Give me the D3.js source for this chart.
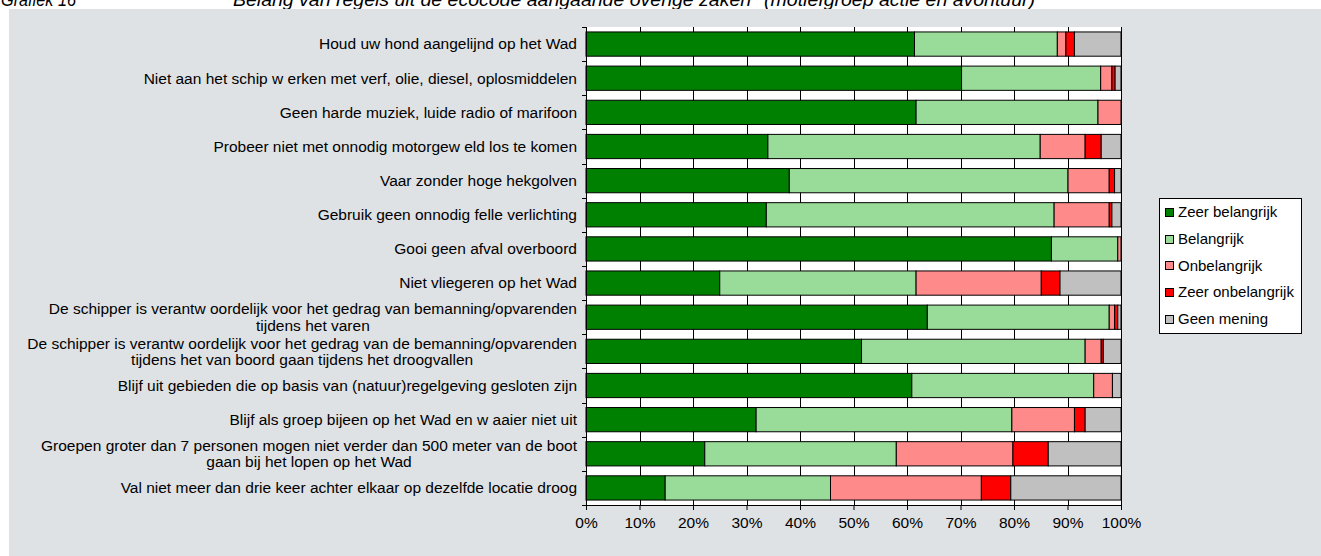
<!DOCTYPE html>
<html>
<head>
<meta charset="utf-8">
<script src="https://cdn.jsdelivr.net/npm/d3@7"></script>
<style>
  html, body { margin: 0; padding: 0; background: #ffffff; }
  svg { display: block; font-family: "Liberation Sans", Arial, sans-serif; }
</style>
</head>
<body>
<svg id="chart" width="1321" height="556"></svg>
<script>
// Survey statements (top to bottom); "\n" marks a wrapped line
const categories = [
  "Houd uw hond aangelijnd op het Wad",
  "Niet aan het schip w erken met verf, olie, diesel, oplosmiddelen",
  "Geen harde muziek, luide radio of marifoon",
  "Probeer niet met onnodig motorgew eld los te komen",
  "Vaar zonder hoge hekgolven",
  "Gebruik geen onnodig felle verlichting",
  "Gooi geen afval overboord",
  "Niet vliegeren op het Wad",
  "De schipper is verantw oordelijk voor het gedrag van bemanning/opvarenden\ntijdens het varen",
  "De schipper is verantw oordelijk voor het gedrag van de bemanning/opvarenden\ntijdens het van boord gaan tijdens het droogvallen",
  "Blijf uit gebieden die op basis van (natuur)regelgeving gesloten zijn",
  "Blijf als groep bijeen op het Wad en w aaier niet uit",
  "Groepen groter dan 7 personen mogen niet verder dan 500 meter van de boot\ngaan bij het lopen op het Wad",
  "Val niet meer dan drie keer achter elkaar op dezelfde locatie droog"
];

// Answer shares (%) per statement, same order as categories
const zeerBelangrijk   = [61.4, 70.2, 61.7, 34.0, 38.0, 33.7, 87.0, 25.0, 63.8, 51.5, 60.9, 31.8, 22.2, 14.8];
const belangrijk       = [26.7, 26.0, 34.0, 50.9, 52.1, 53.8, 12.4, 36.7, 34.0, 41.8, 34.0, 47.8, 35.8, 30.9];
const onbelangrijk     = [ 1.6,  2.1,  4.3,  8.4,  7.7, 10.3,  0.6, 23.4,  1.0,  3.0,  3.5, 11.7, 21.8, 28.2];
const zeerOnbelangrijk = [ 1.6,  0.6,  0.0,  3.0,  1.0,  0.5,  0.0,  3.5,  0.6,  0.4,  0.0,  2.0,  6.6,  5.5];
const geenMening       = [ 8.7,  1.1,  0.0,  3.7,  1.2,  1.7,  0.0, 11.4,  0.6,  3.3,  1.6,  6.7, 13.6, 20.6];

const seriesNames  = ["Zeer belangrijk", "Belangrijk", "Onbelangrijk", "Zeer onbelangrijk", "Geen mening"];
const seriesColors = ["#008000", "#99dc99", "#ff8a8a", "#ff0000", "#c0c0c0"];
const tickValues   = [0, 10, 20, 30, 40, 50, 60, 70, 80, 90, 100];

const titleLabel = "Grafiek 16";
const titleText  = "Belang van regels uit de ecocode aangaande overige zaken* (motiefgroep actie en avontuur)";

// Build a table for d3.stack
const seriesValues = [zeerBelangrijk, belangrijk, onbelangrijk, zeerOnbelangrijk, geenMening];
const table = categories.map((c, i) => {
  const row = { cat: c };
  seriesNames.forEach((s, k) => row[s] = seriesValues[k][i]);
  return row;
});
const stacked = d3.stack().keys(seriesNames)(table);

const svg = d3.select("#chart");

// Title line (runs past the top edge of the page)
svg.append("text").attr("x", 1).attr("y", 6)
  .attr("font-size", 19).attr("font-style", "italic")
  .attr("textLength", 75).attr("lengthAdjust", "spacingAndGlyphs").text(titleLabel);
svg.append("text").attr("x", 233).attr("y", 6)
  .attr("font-size", 19).attr("font-style", "italic")
  .attr("textLength", 802).attr("lengthAdjust", "spacingAndGlyphs").text(titleText);

// Chart panel
svg.append("rect").attr("x", 9).attr("y", 9).attr("width", 1312).attr("height", 547)
  .attr("fill", "#dfe2e5");

const plot = { left: 586, right: 1121, top: 27, bottom: 505 };

const x = d3.scaleLinear().domain([0, 100]).range([plot.left, plot.right]);
const y = d3.scaleBand().domain(categories).range([plot.top, plot.bottom]).paddingInner(0.29).paddingOuter(0.145);
const yBounds = d3.scaleBand().domain(categories).range([plot.top, plot.bottom]);

// Plot area
svg.append("rect").attr("x", plot.left).attr("y", plot.top)
  .attr("width", plot.right - plot.left).attr("height", plot.bottom - plot.top)
  .attr("fill", "#ffffff");

// Vertical gridlines
svg.append("g").selectAll("line").data(tickValues.slice(1)).join("line")
  .attr("x1", d => Math.round(x(d)) + 0.5).attr("x2", d => Math.round(x(d)) + 0.5)
  .attr("y1", plot.top).attr("y2", plot.bottom)
  .attr("stroke", "#000").attr("stroke-width", 1);

// Stacked bars
svg.append("g").selectAll("g").data(stacked).join("g")
  .attr("fill", (d, i) => seriesColors[i])
  .selectAll("rect").data(d => d.filter(p => p[1] - p[0] > 0)).join("rect")
  .attr("x", d => x(d[0]))
  .attr("y", d => y(d.data.cat))
  .attr("width", d => x(d[1]) - x(d[0]))
  .attr("height", y.bandwidth())
  .attr("stroke", "#000").attr("stroke-width", 1);

// X axis
const xAxis = svg.append("g").attr("transform", `translate(0,${plot.bottom})`)
  .call(d3.axisBottom(x).tickValues(tickValues).tickFormat(d => d + "%").tickSize(5).tickPadding(7));
xAxis.selectAll("path, line").attr("stroke", "#000");
xAxis.selectAll("text").attr("font-size", 15.5).attr("fill", "#000")
  .attr("font-family", "Liberation Sans, Arial, sans-serif");

// Y axis line with ticks at category boundaries
svg.append("line").attr("x1", plot.left + 0.5).attr("x2", plot.left + 0.5)
  .attr("y1", plot.top).attr("y2", plot.bottom).attr("stroke", "#000");
const bounds = categories.map(c => yBounds(c)).concat([plot.bottom]);
svg.append("g").selectAll("line").data(bounds).join("line")
  .attr("x1", plot.left - 4).attr("x2", plot.left)
  .attr("y1", d => Math.round(d) + 0.5).attr("y2", d => Math.round(d) + 0.5)
  .attr("stroke", "#000");

// Category labels
const labelG = svg.append("g").attr("font-size", 15.5).attr("fill", "#000");
categories.forEach(c => {
  const lines = c.split("\n");
  const cy = yBounds(c) + yBounds.bandwidth() / 2;
  const lh = 16.5;
  const t = labelG.append("text").attr("text-anchor", "middle");
  const y0 = cy - (lines.length - 1) * lh / 2;
  if (lines.length === 1) {
    t.attr("text-anchor", "end").attr("x", 577).attr("y", cy).attr("dy", "0.35em").text(lines[0]);
  } else {
    // wrapped labels are centered on their first line's extent
    const tmp = labelG.append("text").text(lines[0]);
    const w = tmp.node().getComputedTextLength();
    tmp.remove();
    const cx = 577 - w / 2;
    lines.forEach((ln, k) => {
      t.append("tspan").attr("x", cx).attr("y", y0 + k * lh).attr("dy", "0.35em").text(ln);
    });
  }
});

// Legend
const legend = svg.append("g");
legend.append("rect").attr("x", 1159.5).attr("y", 198.5).attr("width", 142).attr("height", 135)
  .attr("fill", "#ffffff").attr("stroke", "#000");
seriesNames.forEach((s, i) => {
  const cy = 212 + i * 26.7;
  legend.append("rect").attr("x", 1165.5).attr("y", Math.round(cy - 4) + 0.5).attr("width", 8).attr("height", 8)
    .attr("fill", seriesColors[i]).attr("stroke", "#000");
  legend.append("text").attr("x", 1178).attr("y", cy).attr("dy", "0.35em")
    .attr("font-size", 15).text(s);
});
</script>
</body>
</html>
